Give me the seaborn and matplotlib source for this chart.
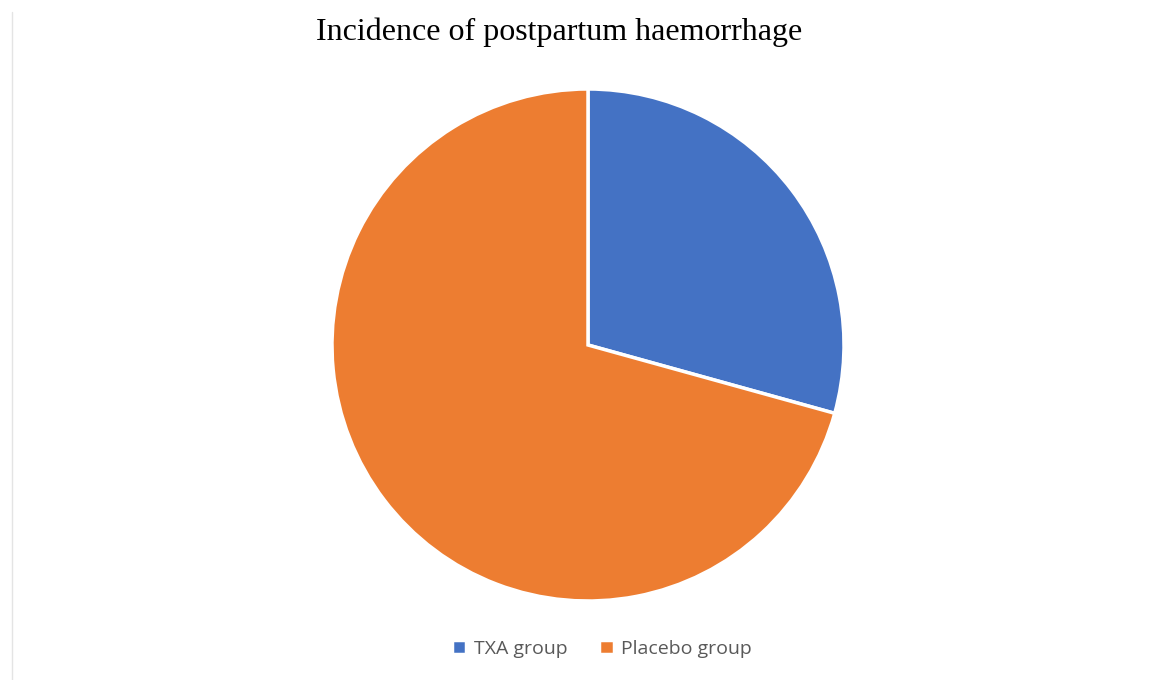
import matplotlib
matplotlib.use("Agg")
import matplotlib.pyplot as plt
import matplotlib.lines as mlines
import seaborn as sns

# Share of postpartum haemorrhage cases (%)
groups = ["TXA group", "Placebo group"]
shares = [29.3, 70.7]
title = "Incidence of postpartum haemorrhage"

sns.set_theme(style="white")
palette = sns.color_palette(["#4472C4", "#ED7D31"])

W, H = 1150, 680
fig = plt.figure(figsize=(W / 100, H / 100), dpi=100)
fig.patch.set_facecolor("white")

# pie axes: centre (588, 345), radius 256 px
cx, cy, r = 588, 345, 256
ax = fig.add_axes([(cx - r) / W, (H - cy - r) / H, 2 * r / W, 2 * r / H])
wedges, _ = ax.pie(
    shares,
    colors=palette,
    startangle=90,
    counterclock=False,
    radius=1.0,
    wedgeprops=dict(edgecolor="white", linewidth=2.5),
)
ax.set_xlim(-1, 1)
ax.set_ylim(-1, 1)
ax.axis("off")

fig.text(559 / W, 1 - 32 / H, title, ha="center", va="center",
         fontsize=23, family="Liberation Serif", color="black")

fig.legend(
    wedges, groups,
    loc="center", bbox_to_anchor=(602 / W, 1 - 649 / H),
    ncol=2, frameon=False, handlelength=0.75, handleheight=0.75,
    handletextpad=0.4, columnspacing=1.6,
    prop={"family": "Open Sans", "size": 14},
    labelcolor="#595959",
)

# faint frame line on the left
fig.add_artist(mlines.Line2D([11.5 / W, 11.5 / W], [0, 1 - 12 / H],
                             transform=fig.transFigure, color="#e4e4e4", lw=1))

fig.savefig("out.png", dpi=100, facecolor="white")
